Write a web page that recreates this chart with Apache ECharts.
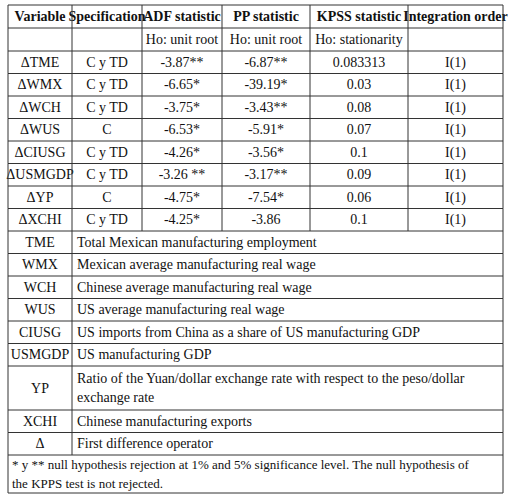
<!DOCTYPE html>
<html><head><meta charset="utf-8">
<script src="https://cdn.jsdelivr.net/npm/echarts@6/dist/echarts.min.js"></script>
<style>html,body{margin:0;background:#fff}#main{width:508px;height:498px}</style>
</head><body><div id="main"></div>
<script>
const headers = ['Variable', 'Specification', 'ADF statistic', 'PP statistic', 'KPSS statistic', 'Integration order'];
const subHeaders = ['', '', 'Ho: unit root', 'Ho: unit root', 'Ho: stationarity', ''];
const variables = ['ΔTME', 'ΔWMX', 'ΔWCH', 'ΔWUS', 'ΔCIUSG', 'ΔUSMGDP', 'ΔYP', 'ΔXCHI'];
const specs = ['C y TD', 'C y TD', 'C y TD', 'C', 'C y TD', 'C y TD', 'C', 'C y TD'];
const adf = ['-3.87**', '-6.65*', '-3.75*', '-6.53*', '-4.26*', '-3.26 **', '-4.75*', '-4.25*'];
const pp = ['-6.87**', '-39.19*', '-3.43**', '-5.91*', '-3.56*', '-3.17**', '-7.54*', '-3.86'];
const kpss = ['0.083313', '0.03', '0.08', '0.07', '0.1', '0.09', '0.06', '0.1'];
const order = ['I(1)', 'I(1)', 'I(1)', 'I(1)', 'I(1)', 'I(1)', 'I(1)', 'I(1)'];
const defNames = ['TME', 'WMX', 'WCH', 'WUS', 'CIUSG', 'USMGDP', 'YP', 'XCHI', 'Δ'];
const defTexts = ['Total Mexican manufacturing employment', 'Mexican average manufacturing real wage',
  'Chinese average manufacturing real wage', 'US average manufacturing real wage',
  'US imports from China as a share of US manufacturing GDP', 'US manufacturing GDP',
  'Ratio of the Yuan/dollar exchange rate with respect to the peso/dollar\nexchange rate',
  'Chinese manufacturing exports', 'First difference operator'];
const footnote = '* y ** null hypothesis rejection at 1% and 5% significance level. The null hypothesis of\nthe KPPS test is not rejected.';

const colX = [8, 72, 142, 222, 310, 408, 503];
const L = 8, R = 503;
const els = [];
function line(x1, y1, x2, y2) {
  els.push({type: 'line', shape: {x1, y1, x2, y2}, style: {stroke: '#333', lineWidth: 1}});
}
function txt(s, x, y, align, bold, size) {
  els.push({type: 'text', x, y, style: {text: s, fontFamily: 'Liberation Serif', fontSize: size || 14,
    fontWeight: bold ? 'bold' : 'normal', fill: '#111', align, verticalAlign: 'middle', lineHeight: 19}});
}
function row(cells, y0, y1, bold) {
  for (let i = 0; i < cells.length; i++) {
    txt(cells[i], (colX[i] + colX[i + 1]) / 2, (y0 + y1) / 2, 'center', bold);
    line(colX[i], y0, colX[i], y1);
  }
  line(R, y0, R, y1);
  line(L, y1, R, y1);
}
let y = 5;
line(L, y, R, y);
row(headers, y, 28, true); y = 28;
row(subHeaders, y, 51, false); y = 51;
const rh = 22.5;
for (let i = 0; i < variables.length; i++) {
  row([variables[i], specs[i], adf[i], pp[i], kpss[i], order[i]], y, y + rh, false);
  y += rh;
}
for (let i = 0; i < defNames.length; i++) {
  const h = defTexts[i].includes('\n') ? 44 : rh;
  txt(defNames[i], (colX[0] + colX[1]) / 2, y + h / 2, 'center');
  txt(defTexts[i], colX[1] + 5, y + h / 2, 'left');
  line(L, y, L, y + h); line(colX[1], y, colX[1], y + h); line(R, y, R, y + h);
  line(L, y + h, R, y + h);
  y += h;
}
txt(footnote, L + 4, (y + 493) / 2, 'left', false, 13);
line(L, y, L, 493); line(R, y, R, 493); line(L, 493, R, 493);

const chart = echarts.init(document.getElementById('main'), null, {renderer: 'svg'});
chart.setOption({backgroundColor: '#fff', graphic: {elements: els}});
</script></body></html>
